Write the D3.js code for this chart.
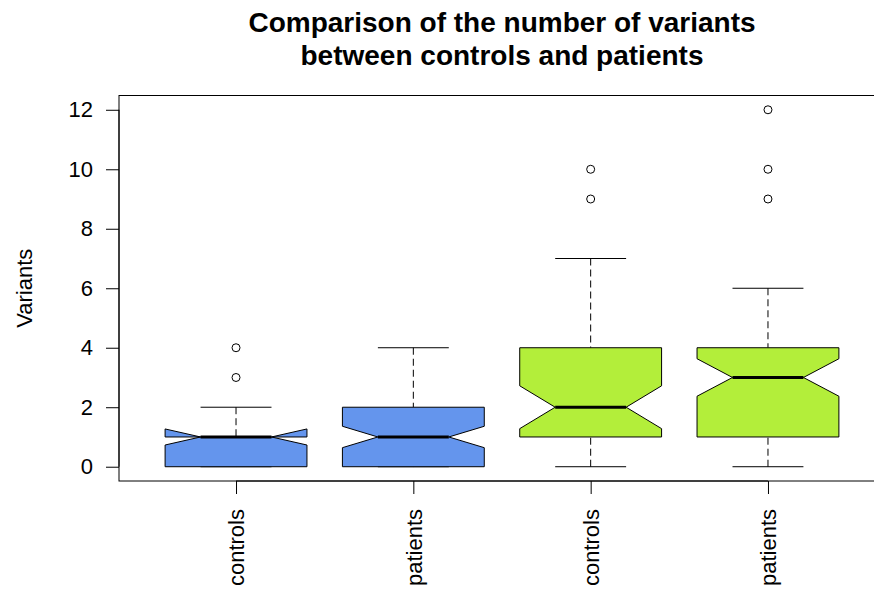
<!DOCTYPE html>
<html>
<head>
<meta charset="utf-8">
<script src="https://cdn.jsdelivr.net/npm/d3@7"></script>
<style>
  html, body { margin: 0; padding: 0; background: #fff; }
  svg { display: block; font-family: "Liberation Sans", Arial, sans-serif; }
</style>
</head>
<body>
<svg id="chart" width="874" height="589"></svg>
<script>
// Group labels along the x axis
const groups = ["controls", "patients", "controls", "patients"];
// Five-number summaries per group
const whiskerLow  = [0, 0, 0, 0];
const lowerHinge  = [0, 0, 1, 1];
const medians     = [1, 1, 2, 3];
const upperHinge  = [1, 2, 4, 4];
const whiskerHigh = [2, 4, 7, 6];
// Notch extents (confidence interval around the median)
const notchLow  = [0.73, 0.64, 1.28, 2.37];
const notchHigh = [1.27, 1.36, 2.72, 3.63];
// Points beyond the whiskers
const outliers = [[3, 4], [], [9, 10], [9, 10, 12]];
// Y axis ticks
const yTicks = [0, 2, 4, 6, 8, 10, 12];
// Fill per group
const boxFills = ["#6495ED", "#6495ED", "#B3EE3A", "#B3EE3A"];

const svg = d3.select("#chart");

const plot = { left: 119, right: 885, top: 95.5, bottom: 481 };
const axisFont = 22;

// Base-graphics style padding: 4% beyond the data range on each axis
const x = d3.scaleLinear().domain([0.34, 4.66]).range([plot.left, plot.right]);
const y = d3.scaleLinear().domain([-0.48, 12.48]).range([plot.bottom, plot.top]);

const wid = 0.8;

const rows = groups.map((g, i) => ({
  pos: i + 1, label: g,
  lo: whiskerLow[i], q1: lowerHinge[i], med: medians[i], q3: upperHinge[i], hi: whiskerHigh[i],
  c1: notchLow[i], c2: notchHigh[i], out: outliers[i], fill: boxFills[i]
}));

const g = svg.append("g");

// whiskers (dashed) and staples
rows.forEach(d => {
  g.append("line")
    .attr("x1", x(d.pos)).attr("x2", x(d.pos))
    .attr("y1", y(d.hi)).attr("y2", y(d.q3))
    .attr("stroke", "#000").attr("stroke-width", 1).attr("stroke-dasharray", "7,4");
  g.append("line")
    .attr("x1", x(d.pos)).attr("x2", x(d.pos))
    .attr("y1", y(d.lo)).attr("y2", y(d.q1))
    .attr("stroke", "#000").attr("stroke-width", 1).attr("stroke-dasharray", "7,4");
  [d.lo, d.hi].forEach(v => {
    g.append("line")
      .attr("x1", x(d.pos - wid / 4)).attr("x2", x(d.pos + wid / 4))
      .attr("y1", y(v)).attr("y2", y(v))
      .attr("stroke", "#000").attr("stroke-width", 1);
  });
});

// notched boxes
rows.forEach(d => {
  const xs = [-0.5, 0.5, 0.5, 0.25, 0.5, 0.5, -0.5, -0.5, -0.25, -0.5].map(f => x(d.pos + wid * f));
  const ys = [d.q1, d.q1, d.c1, d.med, d.c2, d.q3, d.q3, d.c2, d.med, d.c1].map(v => y(v));
  const pts = xs.map((xx, k) => [xx, ys[k]]);
  g.append("path")
    .attr("d", d3.line()(pts) + "Z")
    .attr("fill", d.fill)
    .attr("stroke", "#000")
    .attr("stroke-width", 1)
    .attr("stroke-linejoin", "miter");
  g.append("line")
    .attr("x1", x(d.pos - wid / 4)).attr("x2", x(d.pos + wid / 4))
    .attr("y1", y(d.med)).attr("y2", y(d.med))
    .attr("stroke", "#000").attr("stroke-width", 3);
  d.out.forEach(v => {
    g.append("circle")
      .attr("cx", x(d.pos)).attr("cy", y(v)).attr("r", 4)
      .attr("fill", "none").attr("stroke", "#000").attr("stroke-width", 1);
  });
});

// plot frame
svg.append("rect")
  .attr("x", plot.left).attr("y", plot.top)
  .attr("width", plot.right - plot.left).attr("height", plot.bottom - plot.top)
  .attr("fill", "none").attr("stroke", "#000").attr("stroke-width", 1);

// y axis
const yAxis = d3.axisLeft(y).tickValues(yTicks).tickSize(13).tickPadding(13).tickFormat(d3.format("d"));
const ya = svg.append("g").attr("transform", `translate(${plot.left},0)`).call(yAxis);
ya.select(".domain").remove();
ya.append("line").attr("x1", 0).attr("x2", 0).attr("y1", y(0)).attr("y2", y(12)).attr("stroke", "#000");
ya.selectAll("text").attr("font-size", axisFont).attr("fill", "#000")
  .attr("font-family", "'Liberation Sans', Arial, sans-serif");
ya.selectAll(".tick line").attr("stroke", "#000");

// x axis with vertical labels
const xAxis = d3.axisBottom(x).tickValues([1, 2, 3, 4]).tickSize(13).tickFormat(d => groups[d - 1]);
const xa = svg.append("g").attr("transform", `translate(0,${plot.bottom})`).call(xAxis);
xa.select(".domain").remove();
xa.append("line").attr("x1", x(1)).attr("x2", x(4)).attr("y1", 0).attr("y2", 0).attr("stroke", "#000");
xa.selectAll(".tick line").attr("stroke", "#000");
xa.selectAll("text")
  .attr("font-size", axisFont).attr("fill", "#000")
  .attr("font-family", "'Liberation Sans', Arial, sans-serif")
  .attr("transform", "rotate(-90)")
  .attr("x", -28).attr("y", 0).attr("dy", "0.35em")
  .attr("text-anchor", "end");

// y label
svg.append("text")
  .attr("transform", `translate(32,${(plot.top + plot.bottom) / 2}) rotate(-90)`)
  .attr("text-anchor", "middle")
  .attr("font-size", axisFont)
  .attr("fill", "#000")
  .text("Variants");

// title
const title = svg.append("text")
  .attr("text-anchor", "middle")
  .attr("font-size", 28)
  .attr("font-weight", "bold")
  .attr("fill", "#000");
title.append("tspan").attr("x", (plot.left + plot.right) / 2).attr("y", 32).text("Comparison of the number of variants");
title.append("tspan").attr("x", (plot.left + plot.right) / 2).attr("y", 65).text("between controls and patients");
</script>
</body>
</html>
